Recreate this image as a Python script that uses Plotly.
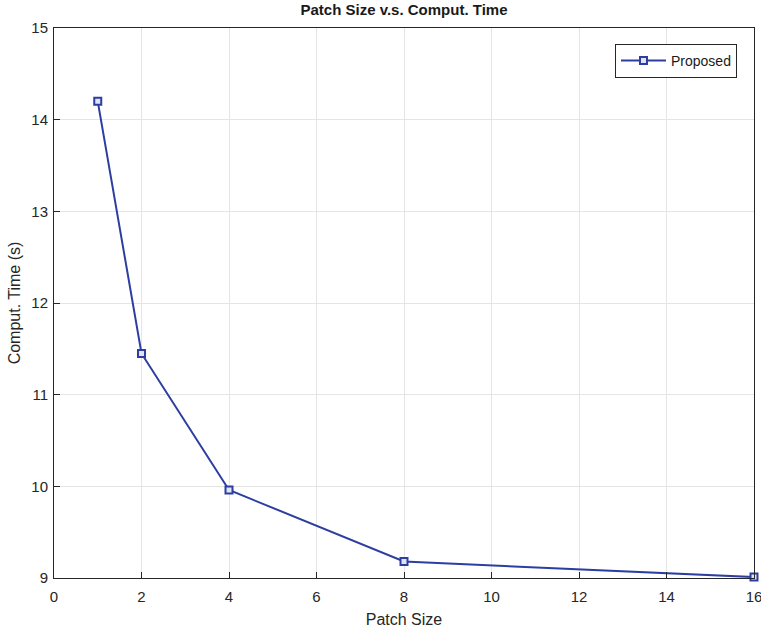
import plotly.graph_objects as go

patch_size = [1, 2, 4, 8, 16]
comput_time = [14.2, 11.45, 9.96, 9.18, 9.01]
series_name = "Proposed"
x_ticks = [0, 2, 4, 6, 8, 10, 12, 14, 16]
y_ticks = [9, 10, 11, 12, 13, 14, 15]

line_color = "#2c3ea0"
axis_color = "#262626"
font_family = "Liberation Sans, Arial, Helvetica, sans-serif"

fig = go.Figure()
fig.add_trace(go.Scatter(
    x=patch_size, y=comput_time, name=series_name,
    mode="lines+markers",
    line=dict(color=line_color, width=2),
    marker=dict(symbol="square", size=7, color="#dfe3f5",
                line=dict(color=line_color, width=2)),
    cliponaxis=False,
))

axis_common = dict(
    showline=True, linecolor=axis_color, linewidth=1, mirror=True,
    ticks="inside", ticklen=6, tickcolor=axis_color, tickwidth=1,
    showgrid=True, gridcolor="#e5e5e5", gridwidth=1,
    zeroline=False, automargin=False, ticklabeloverflow="allow",
    tickfont=dict(family=font_family, size=15, color="#262626"),
)

fig.update_layout(
    width=761, height=628,
    margin=dict(l=54, r=7, t=28, b=50, autoexpand=False),
    paper_bgcolor="white", plot_bgcolor="white",
    font=dict(family=font_family, color="#262626"),
    title=dict(text="<b>Patch Size v.s. Comput. Time</b>", x=0.5, xref="paper", xanchor="center",
               y=0.9935, yref="container", yanchor="top", automargin=False,
               font=dict(family=font_family, size=15, color="#1a1a1a")),
    xaxis=dict(range=[0, 16], tickvals=x_ticks, ticklabelstandoff=5,
               title=dict(text="Patch Size", standoff=13,
               font=dict(family=font_family, size=16, color="#262626")), **axis_common),
    yaxis=dict(range=[9, 15], tickvals=y_ticks, ticklabelstandoff=2,
               title=dict(text="Comput. Time (s)", standoff=6,
               font=dict(family=font_family, size=16, color="#262626")), **axis_common),
    showlegend=True,
    legend=dict(x=0.9757, y=0.971, xanchor="right", yanchor="top",
                bgcolor="white", bordercolor=axis_color, borderwidth=1,
                font=dict(family=font_family, size=14, color="#1a1a1a"),
                itemwidth=45, tracegroupgap=0),
)

fig.write_html("out.html", config={"displayModeBar": False},
               post_script="document.body.style.margin='0';document.body.style.overflow='hidden';")
